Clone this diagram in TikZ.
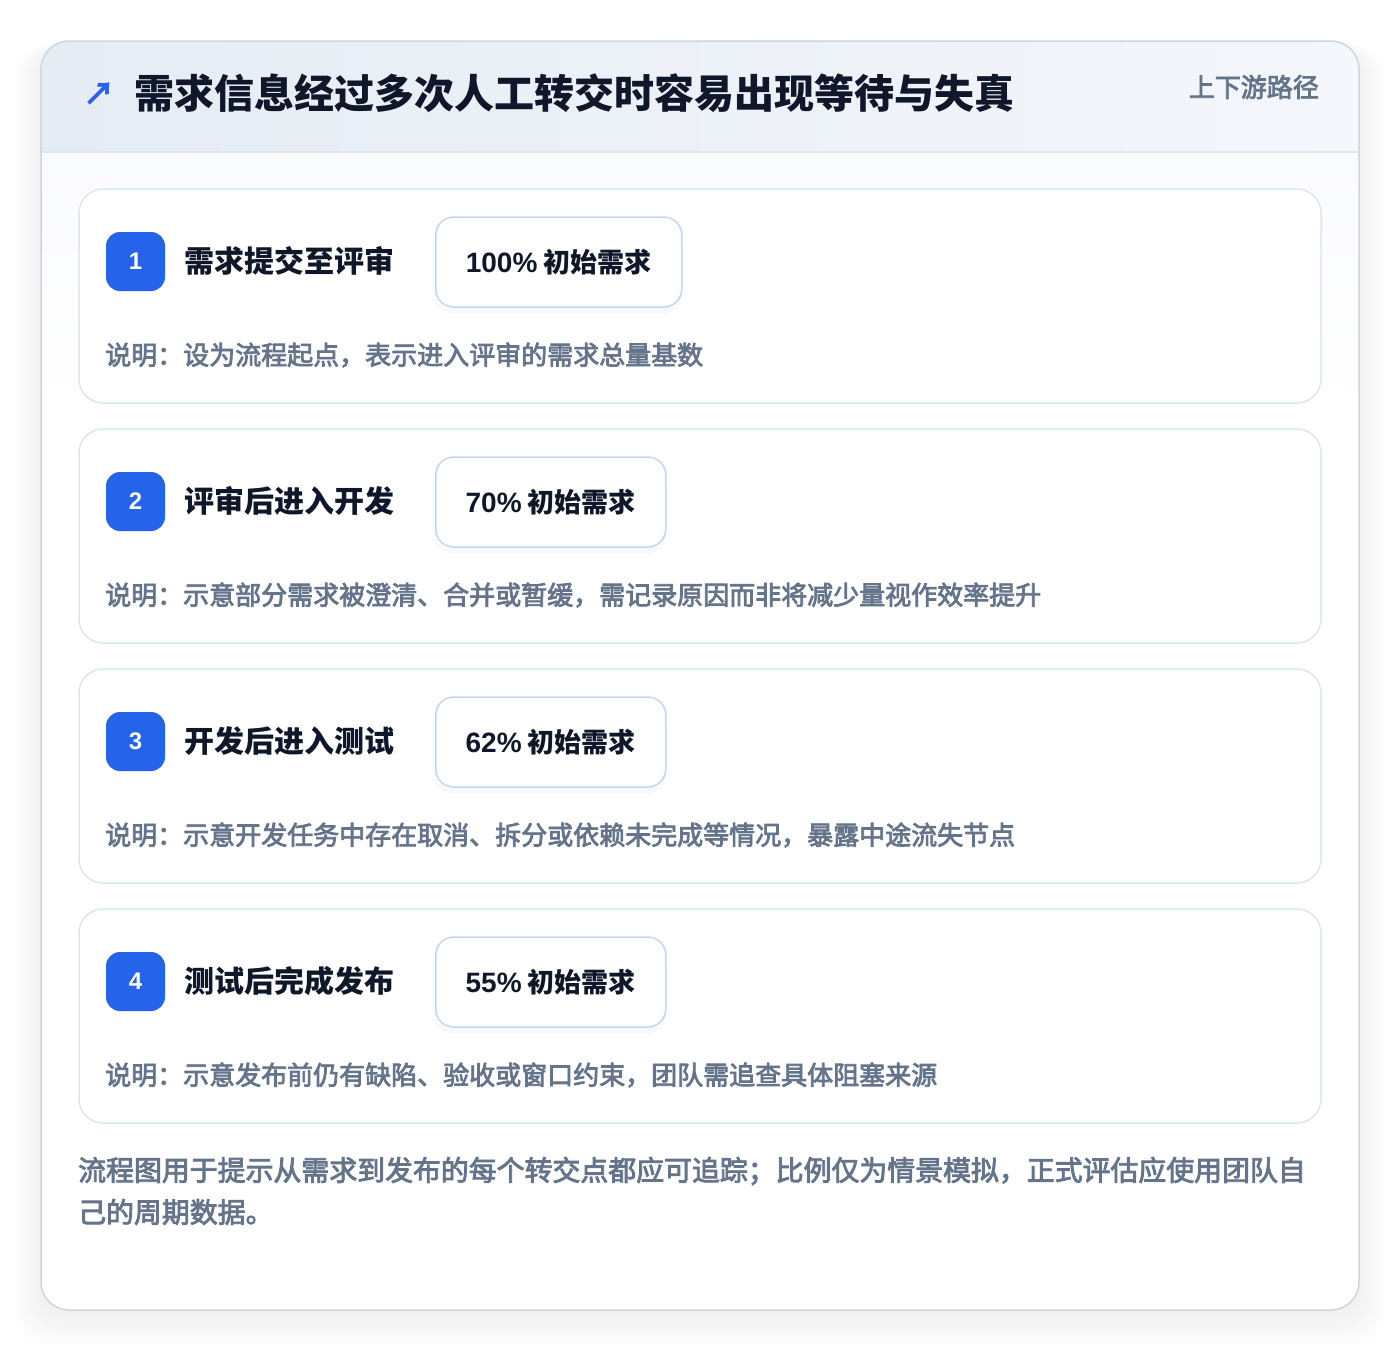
\documentclass[tikz,border=0pt]{standalone}
\usepackage{fontspec}
\setmainfont{Noto Sans CJK SC}
\newfontfamily\medfont{Noto Sans CJK SC}[FakeBold=3]
\newfontfamily\latinfont{Liberation Sans}
\usetikzlibrary{calc}
\definecolor{brandblue}{HTML}{2563EB}
\definecolor{inkdark}{HTML}{0F172A}
\definecolor{inkgray}{HTML}{64748B}
\definecolor{cardline}{HTML}{DCE7F5}
\definecolor{outerline}{HTML}{CCD6E3}
\definecolor{pillline}{HTML}{C3D7F2}
\definecolor{headl}{HTML}{E6ECF4}
\definecolor{headr}{HTML}{F4F7FB}
\definecolor{bodybg}{HTML}{FAFBFD}
\tikzset{
  stepcard/.style={draw=cardline, line width=1.5pt, fill=white, rounded corners=24pt},
  badge/.style={fill=brandblue, rounded corners=14pt, minimum width=59pt, minimum height=59pt, inner sep=0pt, text=white, font=\latinfont\bfseries\fontsize{24}{24}\selectfont},
  steptitle/.style={anchor=west, inner sep=0pt, text=inkdark, font=\bfseries\fontsize{30}{30}\selectfont},
  pill/.style={draw=pillline, line width=1.5pt, fill=white, rounded corners=18pt, minimum height=90pt, inner sep=0pt, text=inkdark, font=\bfseries\fontsize{27}{27}\selectfont},
  desc/.style={anchor=west, inner sep=0pt, text=inkgray, font=\medfont\fontsize{26}{26}\selectfont},
}
\begin{document}
\begin{tikzpicture}[x=1pt,y=-1pt]
\useasboundingbox (0,0) rectangle (1400,1352);
\fill[white] (0,0) rectangle (1400,1352);
% outer shadow
\foreach \i in {1,...,14}{
  \fill[black, opacity=0.005, rounded corners=30pt] ($(41,41)+(-\i*1.8,-\i*0.5+10)$) rectangle ($(1359,1310)+(\i*1.8,\i*2.3+4)$);
}
% outer card
\fill[bodybg, rounded corners=28pt] (41,41) rectangle (1359,1310);
\begin{scope}
  \clip[rounded corners=28pt] (41,41) rectangle (1359,1310);
  \shade[left color=headl, right color=headr] (41,41) rectangle (1359,152);
  \fill[white] (41,152) rectangle (1359,1310);
  \shade[top color=bodybg, bottom color=white] (41,152) rectangle (1359,420);
\end{scope}
\draw[cardline, line width=1.5pt] (41,152) -- (1359,152);
\draw[outerline, line width=1.5pt, rounded corners=28pt] (41,41) rectangle (1359,1310);
% header
\node[anchor=center, inner sep=0pt, text=brandblue, font=\bfseries\fontsize{32}{32}\selectfont] (arrow) at (99,94) {↗};
\node[anchor=west, inner sep=0pt, text=inkdark, font=\bfseries\fontsize{40}{40}\selectfont] (title) at (134,93) {需求信息经过多次人工转交时容易出现等待与失真};
\node[anchor=east, inner sep=0pt, text=inkgray, font=\medfont\fontsize{26}{26}\selectfont] (tag) at (1319,87) {上下游路径};
% steps
\foreach \n/\t/\pn/\w/\d [count=\k from 0] in {
  1/需求提交至评审/100/246/说明：设为流程起点，表示进入评审的需求总量基数,
  2/评审后进入开发/70/230/说明：示意部分需求被澄清、合并或暂缓，需记录原因而非将减少量视作效率提升,
  3/开发后进入测试/62/230/说明：示意开发任务中存在取消、拆分或依赖未完成等情况，暴露中途流失节点,
  4/测试后完成发布/55/230/说明：示意发布前仍有缺陷、验收或窗口约束，团队需追查具体阻塞来源}{
  \pgfmathsetmacro{\oy}{\k*240}
  \draw[stepcard] (79,189+\oy) rectangle (1321,403+\oy);
  \node[badge] (b\n) at (135.5,261.5+\oy) {\n};
  \node[steptitle] (t\n) at (184,261+\oy) {\t};
  \fill[black, opacity=0.025, rounded corners=20pt] (433,225+\oy) rectangle (435+\w+2,314+\oy);
  \node[pill, minimum width=\w pt, anchor=west] (p\n) at (435,262+\oy) {{\latinfont\bfseries\fontsize{28}{28}\selectfont\pn\%} 初始需求};
  \node[desc] (d\n) at (105,355+\oy) {\d};
}
% footer
\node[anchor=west, inner sep=0pt, text=inkgray, font=\medfont\fontsize{27.9}{27.9}\selectfont] (f1) at (78,1171) {流程图用于提示从需求到发布的每个转交点都应可追踪；比例仅为情景模拟，正式评估应使用团队自};
\node[anchor=west, inner sep=0pt, text=inkgray, font=\medfont\fontsize{27.9}{27.9}\selectfont] (f2) at (78,1212) {己的周期数据。};
\end{tikzpicture}
\end{document}
